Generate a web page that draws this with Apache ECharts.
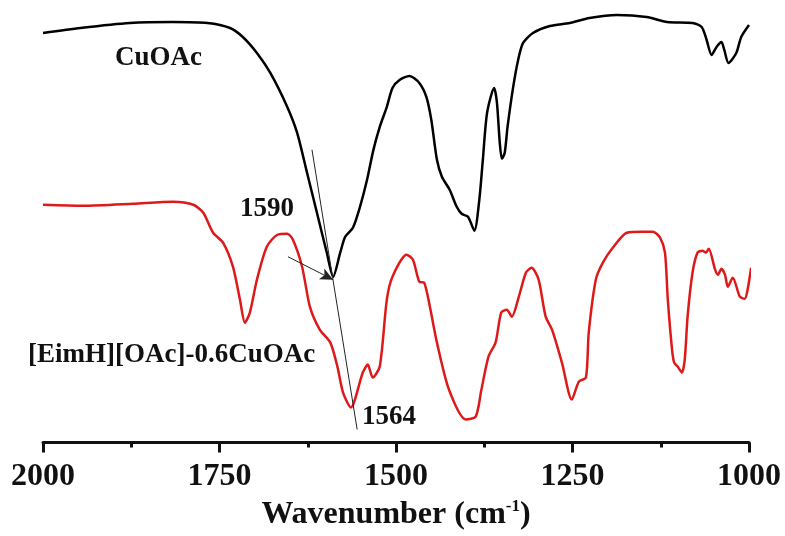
<!DOCTYPE html>
<html>
<head>
<meta charset="utf-8">
<title>FTIR CuOAc</title>
<script src="https://cdn.jsdelivr.net/npm/echarts@6/dist/echarts.min.js"></script>
<style>
  html, body { margin: 0; padding: 0; background: #fff; }
  #chart { width: 785px; height: 536px; }
</style>
</head>
<body>
<div id="chart"></div>
<script>
// CuOAc spectrum (wavenumber, transmittance a.u.)
const cuWn = [2000, 1947, 1877, 1816, 1767, 1735, 1717, 1697, 1678, 1654, 1640, 1626, 1612, 1598, 1589,
  1579, 1572, 1561, 1551, 1541, 1532, 1523, 1513, 1505, 1495, 1481, 1467, 1457, 1450, 1442, 1435,
  1424, 1414, 1407, 1398, 1389, 1382, 1377, 1371, 1361, 1357, 1353, 1350, 1346, 1342, 1334, 1327,
  1320, 1306, 1282, 1254, 1226, 1187, 1145, 1116, 1080, 1067, 1060, 1053, 1046, 1039, 1035, 1029,
  1018, 1011, 1000]
const cuT = [410, 415, 420, 421, 420, 415, 406, 390, 370, 336, 310, 270, 230, 190, 166,
  190, 206, 215, 236, 263, 293, 316, 336, 355, 363, 367, 360, 346, 323, 283, 266,
  253, 236, 229, 226, 212, 243, 283, 330, 355, 340, 300, 284, 290, 316, 356, 383,
  400, 410, 417, 420, 425, 428, 426, 421, 420, 416, 403, 388, 396, 401, 393, 380,
  390, 406, 418]

// [EimH][OAc]-0.6CuOAc spectrum
const ilWn = [2000, 1943, 1872, 1816, 1787, 1773, 1759, 1745, 1731, 1721, 1714, 1707, 1697, 1683, 1668,
  1654, 1646, 1633, 1622, 1608, 1593, 1583, 1575, 1564, 1547, 1540, 1533, 1523, 1513, 1505, 1485,
  1476, 1467, 1460, 1452, 1442, 1425, 1401, 1387, 1379, 1369, 1359, 1351, 1343, 1336, 1326, 1316,
  1308, 1298, 1288, 1279, 1265, 1251, 1241, 1231, 1227, 1217, 1207, 1193, 1173, 1151, 1136, 1126,
  1119, 1115, 1109, 1106, 1101, 1095, 1091, 1087, 1080, 1073, 1066, 1061, 1057, 1048, 1044, 1039,
  1034, 1030, 1023, 1013, 1006, 1002, 997]
const ilT = [238, 237, 239, 241, 238, 230, 210, 200, 176, 143, 120, 130, 163, 196, 208,
  209, 203, 176, 136, 113, 100, 76, 50, 35, 70, 78, 65, 76, 143, 166, 188,
  183, 161, 160, 136, 100, 53, 23, 26, 53, 86, 100, 130, 133, 126, 146, 170,
  175, 163, 126, 113, 80, 43, 61, 65, 110, 163, 180, 195, 210, 211, 211, 205,
  190, 143, 93, 80, 76, 70, 83, 126, 170, 190, 192, 190, 194, 173, 168, 174,
  168, 156, 165, 146, 144, 153, 175]

const xTicks = [2000, 1750, 1500, 1250, 1000]

// guide line through both minima, arrow pointing at 1590
const guideLine = [[1619, 293], [1555, 13]]
const arrowLine = [[1653, 186], [1589, 163]]

const serif = 'Liberation Serif, Times New Roman, serif'
const chart = echarts.init(document.getElementById('chart'))

const pairs = (xs, ys) => xs.map((x, i) => [x, ys[i]])

const textEl = (text, x, y) => ({
  type: 'text',
  left: x,
  top: y,
  style: { text, font: 'bold 27px ' + serif, fill: '#111' },
})

const option = {
  animation: false,
  grid: { left: 43, right: 36, top: 13, bottom: 93 },
  xAxis: {
    type: 'value',
    inverse: true,
    min: 1000,
    max: 2000,
    interval: 250,
    name: 'Wavenumber (cm{sup|-1})',
    nameLocation: 'middle',
    nameGap: 56,
    nameTextStyle: {
      fontFamily: serif,
      fontWeight: 'bold',
      fontSize: 32,
      color: '#111',
      rich: {
        sup: { fontFamily: serif, fontWeight: 'bold', fontSize: 17, color: '#111', padding: [0, 0, 16, 0] },
      },
    },
    axisLine: { show: true, lineStyle: { color: '#111', width: 3 } },
    axisTick: { show: true, inside: false, length: 10, lineStyle: { color: '#111', width: 3 } },
    minorTick: { show: true, splitNumber: 2, length: 5, lineStyle: { color: '#111', width: 3 } },
    splitLine: { show: false },
    axisLabel: {
      fontFamily: serif,
      fontWeight: 'bold',
      fontSize: 32,
      color: '#111',
      margin: 18,
      formatter: (v) => (xTicks.includes(v) ? String(v) : ''),
    },
  },
  yAxis: {
    type: 'value',
    min: 0,
    max: 430,
    show: false,
  },
  series: [
    {
      name: 'CuOAc',
      type: 'line',
      data: pairs(cuWn, cuT),
      smooth: 0.25,
      symbol: 'none',
      clip: false,
      lineStyle: { color: '#000', width: 2.5 },
      markLine: {
        silent: true,
        symbol: 'none',
        label: { show: false },
        lineStyle: { color: '#222', width: 1, type: 'solid' },
        data: [
          [{ coord: guideLine[0] }, { coord: guideLine[1] }],
          [
            { coord: arrowLine[0], symbol: 'none' },
            { coord: arrowLine[1], symbol: 'arrow', symbolSize: [9, 13] },
          ],
        ],
      },
    },
    {
      name: '[EimH][OAc]-0.6CuOAc',
      type: 'line',
      data: pairs(ilWn, ilT),
      smooth: 0.25,
      symbol: 'none',
      clip: false,
      lineStyle: { color: '#dd1a1a', width: 2.5 },
    },
  ],
  graphic: [
    textEl('CuOAc', 115, 45),
    textEl('1590', 240, 196),
    textEl('[EimH][OAc]-0.6CuOAc', 28, 342),
    textEl('1564', 362, 404),
  ],
}

chart.setOption(option)
</script>
</body>
</html>
